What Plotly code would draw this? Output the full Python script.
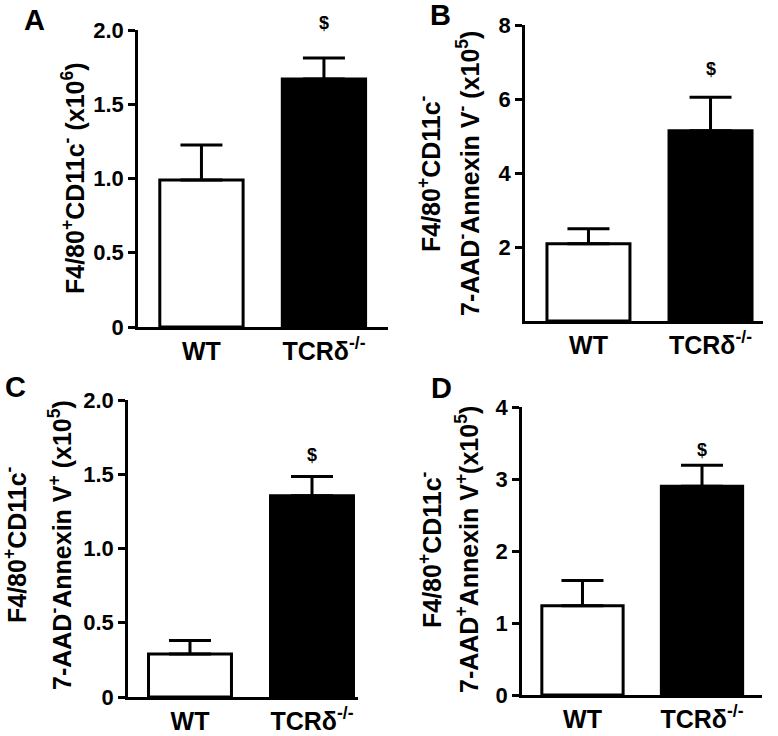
import plotly.graph_objects as go

W, H = 778, 736

categories = ["WT", "TCRδ<sup>-/-</sup>"]

A_mean = [0.99, 1.67]
A_err = [0.235, 0.142]
A_sig = 2.05

B_mean = [2.09, 5.14]
B_err = [0.40, 0.91]
B_sig = 6.8

C_mean = [0.29, 1.355]
C_err = [0.09, 0.13]
C_sig = 1.63

D_mean = [1.24, 2.90]
D_err = [0.35, 0.29]
D_sig = 3.4

A_ticks = [0, 0.5, 1.0, 1.5, 2.0]
A_ticktext = ["0", "0.5", "1.0", "1.5", "2.0"]
B_ticks = [2, 4, 6, 8]
B_ticktext = ["2", "4", "6", "8"]
C_ticks = [0, 0.5, 1.0, 1.5, 2.0]
C_ticktext = ["0", "0.5", "1.0", "1.5", "2.0"]
D_ticks = [0, 1, 2, 3, 4]
D_ticktext = ["0", "1", "2", "3", "4"]

A_title = ["F4/80<sup>+</sup>CD11c<sup>-</sup> (x10<sup>6</sup>)"]
B_title = ["F4/80<sup>+</sup>CD11c<sup>-</sup>",
           "7-AAD<sup>-</sup>Annexin V<sup>-</sup> (x10<sup>5</sup>)"]
C_title = ["F4/80<sup>+</sup>CD11c<sup>-</sup>",
           "7-AAD<sup>-</sup>Annexin V<sup>+</sup> (x10<sup>5</sup>)"]
D_title = ["F4/80<sup>+</sup>CD11c<sup>-</sup>",
           "7-AAD<sup>+</sup>Annexin V<sup>+</sup>(x10<sup>5</sup>)"]

FONT = "Liberation Sans, Arial, sans-serif"


def fx(px):
    return px / W


def fy(py):
    return 1 - py / H


panels = [
    dict(label="A", mean=A_mean, err=A_err, sig=A_sig, ticks=A_ticks, ticktext=A_ticktext,
         title=A_title, ymax=2.0, px=(138, 388), py=(30, 327), xr=(-0.518, 1.523),
         title_x=[73], title_y=178, lab=(34, 20)),
    dict(label="B", mean=B_mean, err=B_err, sig=B_sig, ticks=B_ticks, ticktext=B_ticktext,
         title=B_title, ymax=8.0, px=(525, 763), py=(25, 321), xr=(-0.52, 1.43),
         title_x=[429, 468], title_y=173, lab=(440, 15)),
    dict(label="C", mean=C_mean, err=C_err, sig=C_sig, ticks=C_ticks, ticktext=C_ticktext,
         title=C_title, ymax=2.0, px=(128, 358), py=(400, 697), xr=(-0.508, 1.377),
         title_x=[15, 60], title_y=545, lab=(15, 387)),
    dict(label="D", mean=D_mean, err=D_err, sig=D_sig, ticks=D_ticks, ticktext=D_ticktext,
         title=D_title, ymax=4.0, px=(522, 762), py=(407, 695), xr=(-0.506, 1.502),
         title_x=[430, 467], title_y=550, lab=(442, 388)),
]

fig = go.Figure()
annotations = []
layout = {}

for i, p in enumerate(panels):
    n = "" if i == 0 else str(i + 1)
    xa, ya = "x" + n, "y" + n
    fig.add_trace(go.Bar(
        x=categories, y=p["mean"],
        xaxis=xa, yaxis=ya,
        width=0.68,
        marker=dict(color=["white", "black"], line=dict(color="black", width=3)),
        error_y=dict(type="data", symmetric=False, array=p["err"], arrayminus=[0, 0],
                     color="black", thickness=3, width=21),
        showlegend=False, hoverinfo="skip",
    ))
    layout["xaxis" + n] = dict(
        domain=[fx(p["px"][0]), fx(p["px"][1])],
        anchor=ya, range=list(p["xr"]), type="category",
        showline=True, linecolor="black", linewidth=2.5,
        ticks="", showgrid=False, zeroline=False, automargin=False,
        tickfont=dict(family=FONT, size=25, color="black", weight="bold"),
        ticklabelstandoff=0,
    )
    y0p, y1p = fy(p["py"][1]), fy(p["py"][0])
    layout["yaxis" + n] = dict(
        domain=[y0p, y1p],
        anchor=xa, range=[0, p["ymax"]],
        tickvals=p["ticks"], ticktext=p["ticktext"],
        showline=True, linecolor="black", linewidth=2.5,
        ticks="outside", ticklen=7, tickwidth=2.5, tickcolor="black",
        showgrid=False, zeroline=False, automargin=False,
        tickfont=dict(family=FONT, size=22, color="black", weight="bold"),
    )
    # significance marker (paper coords so it may sit above the axis range)
    annotations.append(dict(
        x=categories[1], y=y0p + (y1p - y0p) * p["sig"] / p["ymax"],
        xref=xa, yref="paper", text="$", showarrow=False,
        xanchor="center", yanchor="middle",
        font=dict(family=FONT, size=18, color="black", weight="bold"),
    ))
    # y titles
    for tx, t in zip(p["title_x"], p["title"]):
        annotations.append(dict(
            x=fx(tx), y=fy(p["title_y"]), xref="paper", yref="paper",
            text=t, textangle=-90, showarrow=False, borderpad=0,
            xanchor="center", yanchor="middle",
            font=dict(family=FONT, size=25, color="black", weight="bold"),
        ))
    # panel label
    annotations.append(dict(
        x=fx(p["lab"][0]), y=fy(p["lab"][1]), xref="paper", yref="paper",
        text=p["label"], showarrow=False, xanchor="center", yanchor="middle",
        borderpad=0,
        font=dict(family=FONT, size=29, color="black", weight="bold"),
    ))

fig.update_layout(
    width=W, height=H,
    margin=dict(l=0, r=0, t=0, b=0, autoexpand=False),
    paper_bgcolor="white", plot_bgcolor="white",
    annotations=annotations,
    **layout,
)

fig.write_html(
    "out.html",
    config={"displayModeBar": False},
    post_script="document.body.style.margin='0px';document.body.style.overflow='hidden';",
)
